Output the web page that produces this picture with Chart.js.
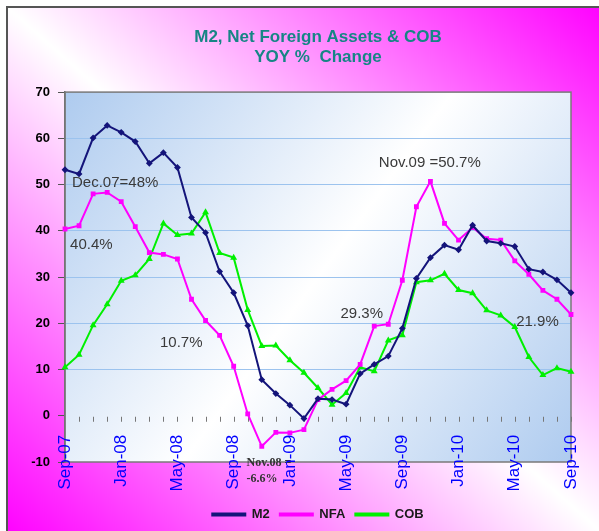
<!DOCTYPE html>
<html>
<head>
<meta charset="utf-8">
<script src="https://cdn.jsdelivr.net/npm/chart.js@4.4.0/dist/chart.umd.min.js"></script>
<style>
  body { margin: 0; background: #fff; overflow: hidden; }
  #wrap { position: relative; width: 599px; height: 531px; overflow: hidden; }
  #frame {
    position: absolute; left: 6px; top: 6px; width: 600px; height: 530px;
    border-left: 2px solid #555; border-top: 2px solid #555;
    background: linear-gradient(to top right, #ff00ff 0%, #ffffff 50%, #ff00ff 100%);
  }
  canvas { position: absolute; left: 0; top: 0; }
</style>
</head>
<body>
<div id="wrap">
  <div id="frame"></div>
  <canvas id="chart" width="599" height="531"></canvas>
</div>
<script>
const months = ['Sep-07', 'Oct-07', 'Nov-07', 'Dec-07', 'Jan-08', 'Feb-08', 'Mar-08', 'Apr-08', 'May-08',
  'Jun-08', 'Jul-08', 'Aug-08', 'Sep-08', 'Oct-08', 'Nov-08', 'Dec-08', 'Jan-09', 'Feb-09', 'Mar-09',
  'Apr-09', 'May-09', 'Jun-09', 'Jul-09', 'Aug-09', 'Sep-09', 'Oct-09', 'Nov-09', 'Dec-09', 'Jan-10',
  'Feb-10', 'Mar-10', 'Apr-10', 'May-10', 'Jun-10', 'Jul-10', 'Aug-10', 'Sep-10'];
const shownTicks = ['Sep-07', 'Jan-08', 'May-08', 'Sep-08', 'Jan-09', 'May-09', 'Sep-09', 'Jan-10', 'May-10', 'Sep-10'];

const m2 = [53.2, 52.3, 60.1, 62.8, 61.3, 59.3, 54.6, 56.9, 53.7, 42.9, 39.6, 31.2, 26.6, 19.5, 7.8, 4.8, 2.3, -0.6, 3.7,
  3.5, 2.5, 9.1, 11.1, 12.9, 18.9, 29.7, 34.2, 36.9, 35.9, 41.2, 37.8, 37.3, 36.6, 31.7, 31.1, 29.4, 26.6];
const nfa = [40.4, 41.1, 48.0, 48.3, 46.3, 40.9, 35.3, 34.9, 33.9, 25.2, 20.6, 17.4, 10.7, 0.4, -6.6, -3.6, -3.7, -3.0, 3.5,
  5.7, 7.6, 11.1, 19.4, 19.8, 29.3, 45.2, 50.7, 41.6, 38.0, 40.7, 38.3, 38.0, 33.5, 30.6, 27.1, 25.2, 21.9];
const cob = [10.5, 13.2, 19.6, 24.1, 29.2, 30.4, 33.9, 41.6, 39.1, 39.4, 44.0, 35.2, 34.2, 22.9, 15.1, 15.2, 12.0, 9.3, 6.0,
  2.4, 4.9, 10.5, 9.6, 16.3, 17.4, 28.9, 29.3, 30.7, 27.2, 26.5, 22.8, 21.7, 19.2, 12.7, 8.8, 10.3, 9.5];

const yMin = -10, yMax = 70, yStep = 10;

// callout texts, anchored in data units (category index, value)
const notes = [
  { text: 'Dec.07=48%', x: 0.5, y: 50.3 },
  { text: '40.4%', x: 0.36, y: 37.0 },
  { text: '10.7%', x: 6.76, y: 15.8 },
  { text: '29.3%', x: 19.6, y: 22.0 },
  { text: '21.9%', x: 32.1, y: 20.3 },
  { text: 'Nov.09 =50.7%', x: 22.33, y: 54.6 },
  { text: 'Nov.08 =', x: 12.92, y: -10.1, small: true },
  { text: '-6.6%', x: 12.92, y: -13.7, small: true }
];

const plotDecor = {
  id: 'plotDecor',
  beforeDraw(chart) {
    const {ctx, chartArea: a} = chart;
    const g = ctx.createLinearGradient(a.left, a.top, a.right, a.bottom);
    g.addColorStop(0, '#aecbef');
    g.addColorStop(0.5, '#ffffff');
    g.addColorStop(1, '#aecbef');
    ctx.save();
    ctx.fillStyle = g;
    ctx.fillRect(a.left, a.top, a.right - a.left, a.bottom - a.top);
    ctx.restore();
  },
  beforeDatasetsDraw(chart) {
    const {ctx, chartArea: a, scales: {x, y}} = chart;
    ctx.save();
    // small category ticks along the zero line
    const y0 = y.getPixelForValue(0);
    ctx.strokeStyle = '#777';
    ctx.lineWidth = 1;
    for (let i = 1; i < months.length; i++) {
      const px = Math.round(x.getPixelForValue(i)) + 0.5;
      ctx.beginPath();
      ctx.moveTo(px, y0 + 1);
      ctx.lineTo(px, y0 + 6);
      ctx.stroke();
    }
    // plot frame
    ctx.strokeStyle = '#7a7a7a';
    ctx.lineWidth = 1.5;
    ctx.strokeRect(a.left, a.top, a.right - a.left, a.bottom - a.top);
    ctx.restore();
  },
  afterDraw(chart) {
    const {ctx, scales: {x, y}} = chart;
    ctx.save();
    ctx.textBaseline = 'middle';
    ctx.textAlign = 'left';
    notes.forEach(n => {
      if (n.small) {
        ctx.font = 'bold 12px "Liberation Serif"';
        ctx.fillStyle = '#333';
      } else {
        ctx.font = '15px "Liberation Sans"';
        ctx.fillStyle = '#3a3a3a';
      }
      ctx.fillText(n.text, x.getPixelForValue(n.x), y.getPixelForValue(n.y));
    });
    // category labels, rotated, hanging below the zero line like the original
    const top = y.getPixelForValue(0) + 19;
    ctx.font = '17px "Liberation Sans"';
    ctx.fillStyle = '#0000ff';
    ctx.textAlign = 'right';
    months.forEach((m, i) => {
      if (!shownTicks.includes(m)) return;
      ctx.save();
      ctx.translate(x.getPixelForValue(i), top);
      ctx.rotate(-Math.PI / 2);
      ctx.fillText(m, 0, 0);
      ctx.restore();
    });
    ctx.restore();
  }
};

const ctx = document.getElementById('chart').getContext('2d');
new Chart(ctx, {
  type: 'line',
  data: {
    labels: months,
    datasets: [{
      label: 'M2',
      data: m2,
      borderColor: '#14147a',
      backgroundColor: '#14147a',
      borderWidth: 2,
      pointStyle: 'rectRot',
      pointRadius: 2
    }, {
      label: 'NFA',
      data: nfa,
      borderColor: '#ff00ff',
      backgroundColor: '#ff00ff',
      borderWidth: 2,
      pointStyle: 'rect',
      pointRadius: 2
    }, {
      label: 'COB',
      data: cob,
      borderColor: '#00f000',
      backgroundColor: '#00f000',
      borderWidth: 2,
      pointStyle: 'triangle',
      pointRadius: 2
    }]
  },
  options: {
    responsive: false,
    animation: false,
    layout: { padding: { left: 10, right: 28, top: 0, bottom: 0 } },
    scales: {
      x: {
        afterFit: s => { s.height = 36; },
        grid: { display: false, drawTicks: false },
        border: { display: false },
        ticks: { display: false, autoSkip: false }
      },
      y: {
        min: yMin,
        max: yMax,
        afterFit: s => { s.width = 55; },
        grid: {
          color: c => (c.tick && c.tick.value > 0 && c.tick.value < yMax) ? '#9cc3ee' : 'rgba(0,0,0,0)',
          tickColor: '#555',
          tickLength: 7,
          lineWidth: 1
        },
        border: { display: true, color: '#666', width: 1.5 },
        ticks: {
          stepSize: yStep,
          padding: 8,
          color: '#000',
          font: { family: '"Liberation Sans"', size: 13, weight: 'bold' }
        }
      }
    },
    plugins: {
      title: {
        display: true,
        fullSize: false,
        text: ['M2, Net Foreign Assets & COB', 'YOY %  Change'],
        color: '#168585',
        font: { family: '"Liberation Sans"', size: 17, weight: 'bold', lineHeight: 1.15 },
        padding: { top: 28, bottom: 25 }
      },
      legend: {
        display: true,
        position: 'bottom',
        fullSize: false,
        labels: {
          boxWidth: 33,
          boxHeight: 2,
          padding: 10,
          color: '#1a1a1a',
          font: { family: '"Liberation Sans"', size: 13, weight: 'bold' }
        }
      },
      tooltip: { enabled: false }
    }
  },
  plugins: [plotDecor]
});
</script>
</body>
</html>
